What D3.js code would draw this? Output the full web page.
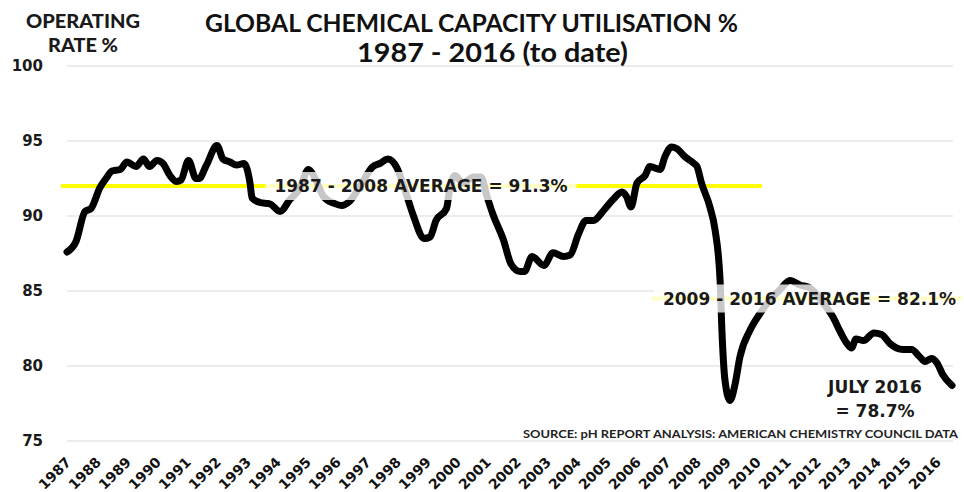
<!DOCTYPE html>
<html>
<head>
<meta charset="utf-8">
<script src="https://cdn.jsdelivr.net/npm/d3@7"></script>
<style>
html,body{margin:0;padding:0;background:#fff;}
svg{display:block;}
</style>
</head>
<body>
<svg id="chart" width="964" height="492"></svg>
<script>
// ---------- DATA ----------
const years = [1987,1988,1989,1990,1991,1992,1993,1994,1995,1996,1997,1998,1999,2000,2001,2002,2003,2004,2005,2006,2007,2008,2009,2010,2011,2012,2013,2014,2015,2016];
const yTicks = [75,80,85,90,95,100];
const dates = [
 1987.00,1987.30,1987.60,1987.80,1988.10,1988.30,1988.50,1988.77,1989.00,1989.30,
 1989.55,1989.75,1990.00,1990.20,1990.43,1990.65,1990.80,1991.05,1991.30,1991.40,
 1991.65,1992.00,1992.20,1992.43,1992.65,1992.90,1993.10,1993.17,1993.43,1993.77,
 1994.10,1994.43,1994.75,1995.05,1995.25,1995.55,1995.90,1996.15,1996.43,1996.77,
 1997.20,1997.43,1997.70,1998.00,1998.27,1998.55,1998.90,1999.10,1999.30,1999.65,
 1999.75,1999.93,2000.20,2000.55,2000.80,2001.00,2001.20,2001.55,2001.80,2002.10,
 2002.25,2002.50,2002.90,2003.20,2003.55,2003.77,2004.05,2004.30,2004.55,2004.90,
 2005.20,2005.50,2005.65,2005.80,2006.00,2006.27,2006.43,2006.77,2006.93,2007.15,
 2007.32,2007.60,2007.90,2008.00,2008.15,2008.43,2008.60,2008.77,2008.83,2008.93,
 2009.10,2009.27,2009.43,2009.77,2010.10,2010.43,2010.77,2011.10,2011.43,2011.77,
 2012.20,2012.55,2012.77,2013.00,2013.15,2013.30,2013.55,2013.90,2014.15,2014.43,
 2014.65,2014.87,2015.15,2015.43,2015.60,2015.82,2016.00,2016.20,2016.50
];
const rates = [
 87.6,88.3,90.3,90.5,91.9,92.5,93.0,93.1,93.6,93.3,
 93.8,93.3,93.7,93.5,92.7,92.3,92.4,93.7,92.5,92.5,
 93.4,94.7,93.8,93.6,93.4,93.5,92.2,91.2,90.9,90.8,
 90.3,91.1,91.8,93.1,92.6,91.3,90.85,90.7,91.0,92.0,
 93.3,93.5,93.8,93.2,91.7,90.0,88.5,88.6,89.7,90.5,
 91.7,92.7,92.2,92.6,92.6,91.3,90.1,88.4,86.8,86.3,
 86.3,87.3,86.7,87.55,87.3,87.4,88.8,89.7,89.7,90.4,
 91.1,91.6,91.3,90.6,92.2,92.7,93.3,93.1,93.95,94.6,
 94.5,93.95,93.5,93.3,92.2,90.6,89.1,85.7,82.4,79.1,
 77.7,78.8,80.6,82.4,83.5,84.4,85.1,85.7,85.4,85.2,
 84.2,83.2,82.3,81.5,81.2,81.8,81.7,82.2,82.1,81.5,
 81.2,81.1,81.1,80.6,80.3,80.5,80.2,79.4,78.7
];
// average reference lines (as drawn)
const avgLabels = ["1987 - 2008 AVERAGE = 91.3%", "2009 - 2016 AVERAGE = 82.1%"];
const avgValues = [92.0, 84.5];
const avgFrom = [1986.8, 2006.55];
const avgTo = [2010.17, 2017.3];
const avgLabelAt = [1998.8, 2011.75];
const lastLabel = ["JULY 2016", "= 78.7%"];
const titleLines = ["GLOBAL CHEMICAL CAPACITY UTILISATION %", "1987 - 2016 (to date)"];
const yAxisTitle = ["OPERATING", "RATE %"];
const sourceText = "SOURCE: pH REPORT ANALYSIS: AMERICAN CHEMISTRY COUNCIL DATA";

// ---------- CHART ----------
const svg = d3.select("#chart");
const x = d3.scaleLinear().domain([1987, 2016.5]).range([67, 952]);
const y = d3.scaleLinear().domain([75, 100]).range([441, 66]);
const series = dates.map((d, i) => ({t: d, v: rates[i]}));

// gridlines
svg.append("g").selectAll("line").data(yTicks).join("line")
  .attr("x1", 67).attr("x2", 953)
  .attr("y1", d => y(d)).attr("y2", d => y(d))
  .attr("stroke", "#d9d9d9").attr("stroke-width", 1);

// y labels
svg.append("g").selectAll("text").data(yTicks).join("text")
  .attr("x", 43).attr("y", d => y(d)).attr("dy", "0.36em")
  .attr("text-anchor", "end")
  .attr("font-family", "DejaVu Sans").attr("font-weight", "bold").attr("font-size", 15)
  .attr("fill", "#1a1a1a").text(d => d);

// x labels
svg.append("g").selectAll("text").data(years).join("text")
  .attr("transform", d => `translate(${x(d) + 5},${463}) rotate(-45)`)
  .attr("text-anchor", "end")
  .attr("font-family", "DejaVu Sans").attr("font-weight", "bold").attr("font-size", 14)
  .attr("fill", "#111").text(d => d);

// yellow average lines
svg.append("g").selectAll("line").data(avgValues).join("line")
  .attr("x1", (d, i) => x(avgFrom[i])).attr("x2", (d, i) => Math.min(x(avgTo[i]), 962))
  .attr("y1", d => y(d)).attr("y2", d => y(d))
  .attr("stroke", "#ffff00").attr("stroke-width", 4);

// data line
const line = d3.line().x(d => x(d.t)).y(d => y(d.v)).curve(d3.curveMonotoneX);
svg.append("path").datum(series)
  .attr("d", line).attr("fill", "none")
  .attr("stroke", "#000").attr("stroke-width", 7)
  .attr("stroke-linejoin", "round").attr("stroke-linecap", "round");

// average labels with semi-transparent boxes
avgLabels.forEach((lab, i) => {
  const g = svg.append("g");
  const t = g.append("text")
    .attr("x", x(avgLabelAt[i])).attr("y", y(avgValues[i])).attr("dy", "0.36em")
    .attr("text-anchor", "middle")
    .attr("font-family", "DejaVu Sans").attr("font-weight", "bold").attr("font-size", 17)
    .attr("fill", "#1a1a1a").text(lab);
  const bb = t.node().getBBox();
  g.insert("rect", "text")
    .attr("x", bb.x - 9).attr("y", y(avgValues[i]) - 14)
    .attr("width", bb.width + 18).attr("height", 28)
    .attr("fill", "#fff").attr("fill-opacity", 0.78);
});

// last value label
svg.append("g").selectAll("text").data(lastLabel).join("text")
  .attr("x", 875).attr("y", (d, i) => 393 + i * 24)
  .attr("text-anchor", "middle")
  .attr("font-family", "DejaVu Sans").attr("font-weight", "bold").attr("font-size", 17)
  .attr("fill", "#1a1a1a").text(d => d);

// source
svg.append("text")
  .attr("x", 958).attr("y", 438).attr("text-anchor", "end")
  .attr("font-family", "Lato").attr("font-weight", "bold").attr("font-size", 11)
  .attr("textLength", 435).attr("lengthAdjust", "spacingAndGlyphs")
  .attr("fill", "#222").text(sourceText);

// titles
svg.append("text").attr("x", 205).attr("y", 32)
  .attr("font-family", "Lato").attr("font-weight", "bold").attr("font-size", 24)
  .attr("textLength", 533).attr("lengthAdjust", "spacingAndGlyphs")
  .attr("fill", "#111").text(titleLines[0]);
svg.append("text").attr("x", 357).attr("y", 62)
  .attr("font-family", "Lato").attr("font-weight", "bold").attr("font-size", 26)
  .attr("textLength", 271).attr("lengthAdjust", "spacingAndGlyphs")
  .attr("fill", "#111").text(titleLines[1]);

// axis title
svg.append("text").attr("x", 26).attr("y", 28)
  .attr("font-family", "Lato").attr("font-weight", "900").attr("font-size", 18)
  .attr("textLength", 114).attr("lengthAdjust", "spacingAndGlyphs")
  .attr("fill", "#1a1a1a").text(yAxisTitle[0]);
svg.append("text").attr("x", 48).attr("y", 52)
  .attr("font-family", "Lato").attr("font-weight", "900").attr("font-size", 18)
  .attr("textLength", 70).attr("lengthAdjust", "spacingAndGlyphs")
  .attr("fill", "#1a1a1a").text(yAxisTitle[1]);
</script>
</body>
</html>
